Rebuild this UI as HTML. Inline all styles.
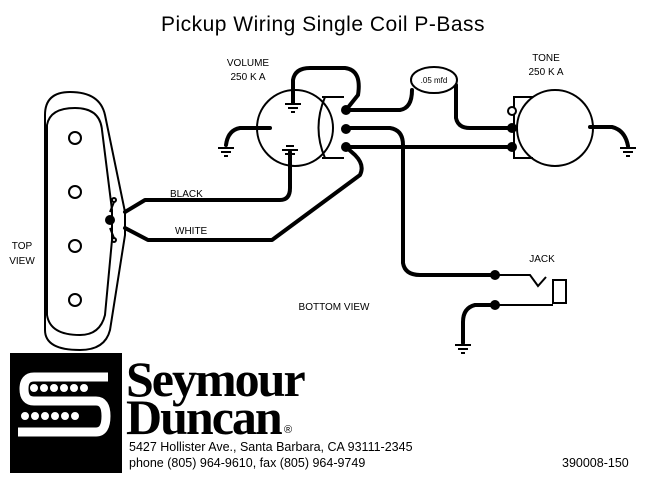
<!DOCTYPE html>
<html><head><meta charset="utf-8"><style>
html,body{margin:0;padding:0;background:#fff;}
svg{display:block;}
text{font-family:"Liberation Sans",sans-serif;fill:#000;}
</style></head><body>
<svg width="648" height="479" viewBox="0 0 648 479" xmlns="http://www.w3.org/2000/svg">
<text x="323" y="31" font-size="21" text-anchor="middle" letter-spacing="0.5">Pickup Wiring Single Coil P-Bass</text>
<g fill="none" stroke="#000" stroke-width="2">
<path d="M45,115 Q45,92 70,92 Q100,92 105,115 L125,212 L125,235 L110,330 Q105,350 80,350 Q45,350 45,330 Z"/>
<path d="M47,125 Q50,108 75,108 Q100,108 102,130 L112,210 L112,240 L105,315 Q100,335 80,335 Q50,335 47,315 Z"/>
<circle cx="75" cy="138" r="6"/><circle cx="75" cy="192" r="6"/><circle cx="75" cy="246" r="6"/><circle cx="75" cy="300" r="6"/>
<circle cx="114" cy="200" r="2"/><circle cx="114" cy="240" r="2"/>
<path d="M114,202 L110,212 M114,238 L110,228"/>
<circle cx="295" cy="128" r="38"/>
<circle cx="555" cy="128" r="38"/>
<path d="M322,97 L344,97 M322,158 L344,158 M325,97 Q312,128 325,158"/>
<path d="M533,97 L514,97 L514,158 L533,158"/>
</g>
<g fill="none" stroke="#000" stroke-width="4" stroke-linecap="round" stroke-linejoin="round">
<path d="M125,212 L145,200 L280,200 Q290,200 290,188 L290,152"/>
<path d="M125,228 L148,240 L272,240 L360,175 Q365,165 355,155 L346,147"/>
<path d="M293,103 L293,80 Q295,68 310,68 L345,68 Q362,70 358,95 L346,110"/>
<path d="M346,110 L400,110 Q412,108 412,90"/>
<path d="M456,85 L456,118 Q458,128 470,128 L512,128"/>
<path d="M346,128 L390,128 Q403,130 403,145 L403,263 Q405,275 420,275 L495,275"/>
<path d="M346,147 L512,147"/>
<path d="M495,305 L475,305 Q463,308 463,322 L463,343"/>
<path d="M270,128 L240,128 Q228,130 226,145"/>
<path d="M590,127 L612,127 Q625,130 628,146"/>
</g>
<g fill="none" stroke="#000" stroke-width="2">
<path d="M495,275 L530,275 L538,286 L546,277"/>
<rect x="553" y="280" width="13" height="23"/>
<path d="M495,305 L553,305"/>
<path d="M285,104 L301,104 M288,108 L298,108 M291,112 L295,112"/>
<path d="M282,150 L298,150 M285,154 L295,154 M288,158 L292,158 M286,146 L294,146"/>
<path d="M218,148 L234,148 M221,152 L231,152 M224,156 L228,156"/>
<path d="M620,148 L636,148 M623,152 L633,152 M626,156 L630,156"/>
<path d="M455,345 L471,345 M458,349 L468,349 M461,353 L465,353"/>
<ellipse cx="434" cy="80" rx="23" ry="13" fill="#fff"/>
<circle cx="512" cy="111" r="4" fill="#fff"/>
</g>
<g fill="#000">
<circle cx="346" cy="110" r="5"/><circle cx="346" cy="129" r="5"/><circle cx="346" cy="147" r="5"/>
<circle cx="512" cy="128" r="5"/><circle cx="512" cy="147" r="5"/>
<circle cx="495" cy="275" r="5"/><circle cx="495" cy="305" r="5"/>
<circle cx="110" cy="220" r="5"/>
</g>
<g font-size="10">
<text x="170" y="197">BLACK</text>
<text x="175" y="234">WHITE</text>
<text x="248" y="66" text-anchor="middle">VOLUME</text>
<text x="248" y="80" text-anchor="middle">250 K A</text>
<text x="546" y="61" text-anchor="middle">TONE</text>
<text x="546" y="75" text-anchor="middle">250 K A</text>
<text x="22" y="249" text-anchor="middle">TOP</text>
<text x="22" y="264" text-anchor="middle">VIEW</text>
<text x="334" y="310" text-anchor="middle">BOTTOM VIEW</text>
<text x="542" y="262" text-anchor="middle">JACK</text>
<text x="434" y="83" text-anchor="middle" font-size="8">.05 mfd</text>
</g>
<!-- logo -->
<rect x="10" y="353" width="112" height="120" fill="#000"/>
<path d="M108,377 L34,377 Q24,377 24,389 Q24,401 34,401 L96,401 Q106,401 106,416 Q106,432 96,432 L18,432" fill="none" stroke="#fff" stroke-width="9"/>
<g fill="#fff" stroke="#000" stroke-width="1">
<circle cx="34" cy="388" r="4.5"/><circle cx="44" cy="388" r="4.5"/><circle cx="54" cy="388" r="4.5"/><circle cx="64" cy="388" r="4.5"/><circle cx="74" cy="388" r="4.5"/><circle cx="84" cy="388" r="4.5"/>
<circle cx="25" cy="416" r="4.5"/><circle cx="35" cy="416" r="4.5"/><circle cx="45" cy="416" r="4.5"/><circle cx="55" cy="416" r="4.5"/><circle cx="65" cy="416" r="4.5"/><circle cx="75" cy="416" r="4.5"/>
</g>
<text x="126" y="396" font-size="50" font-weight="bold" letter-spacing="-2" style="font-family:'Liberation Serif',serif">Seymour</text>
<text x="126" y="434" font-size="50" font-weight="bold" letter-spacing="-2" style="font-family:'Liberation Serif',serif">Duncan</text>
<text x="284" y="433" font-size="11">®</text>
<text x="129" y="451" font-size="12.5">5427 Hollister Ave., Santa Barbara, CA 93111-2345</text>
<text x="129" y="467" font-size="12.5">phone (805) 964-9610, fax (805) 964-9749</text>
<text x="562" y="467" font-size="12.5">390008-150</text>
</svg>
</body></html>
